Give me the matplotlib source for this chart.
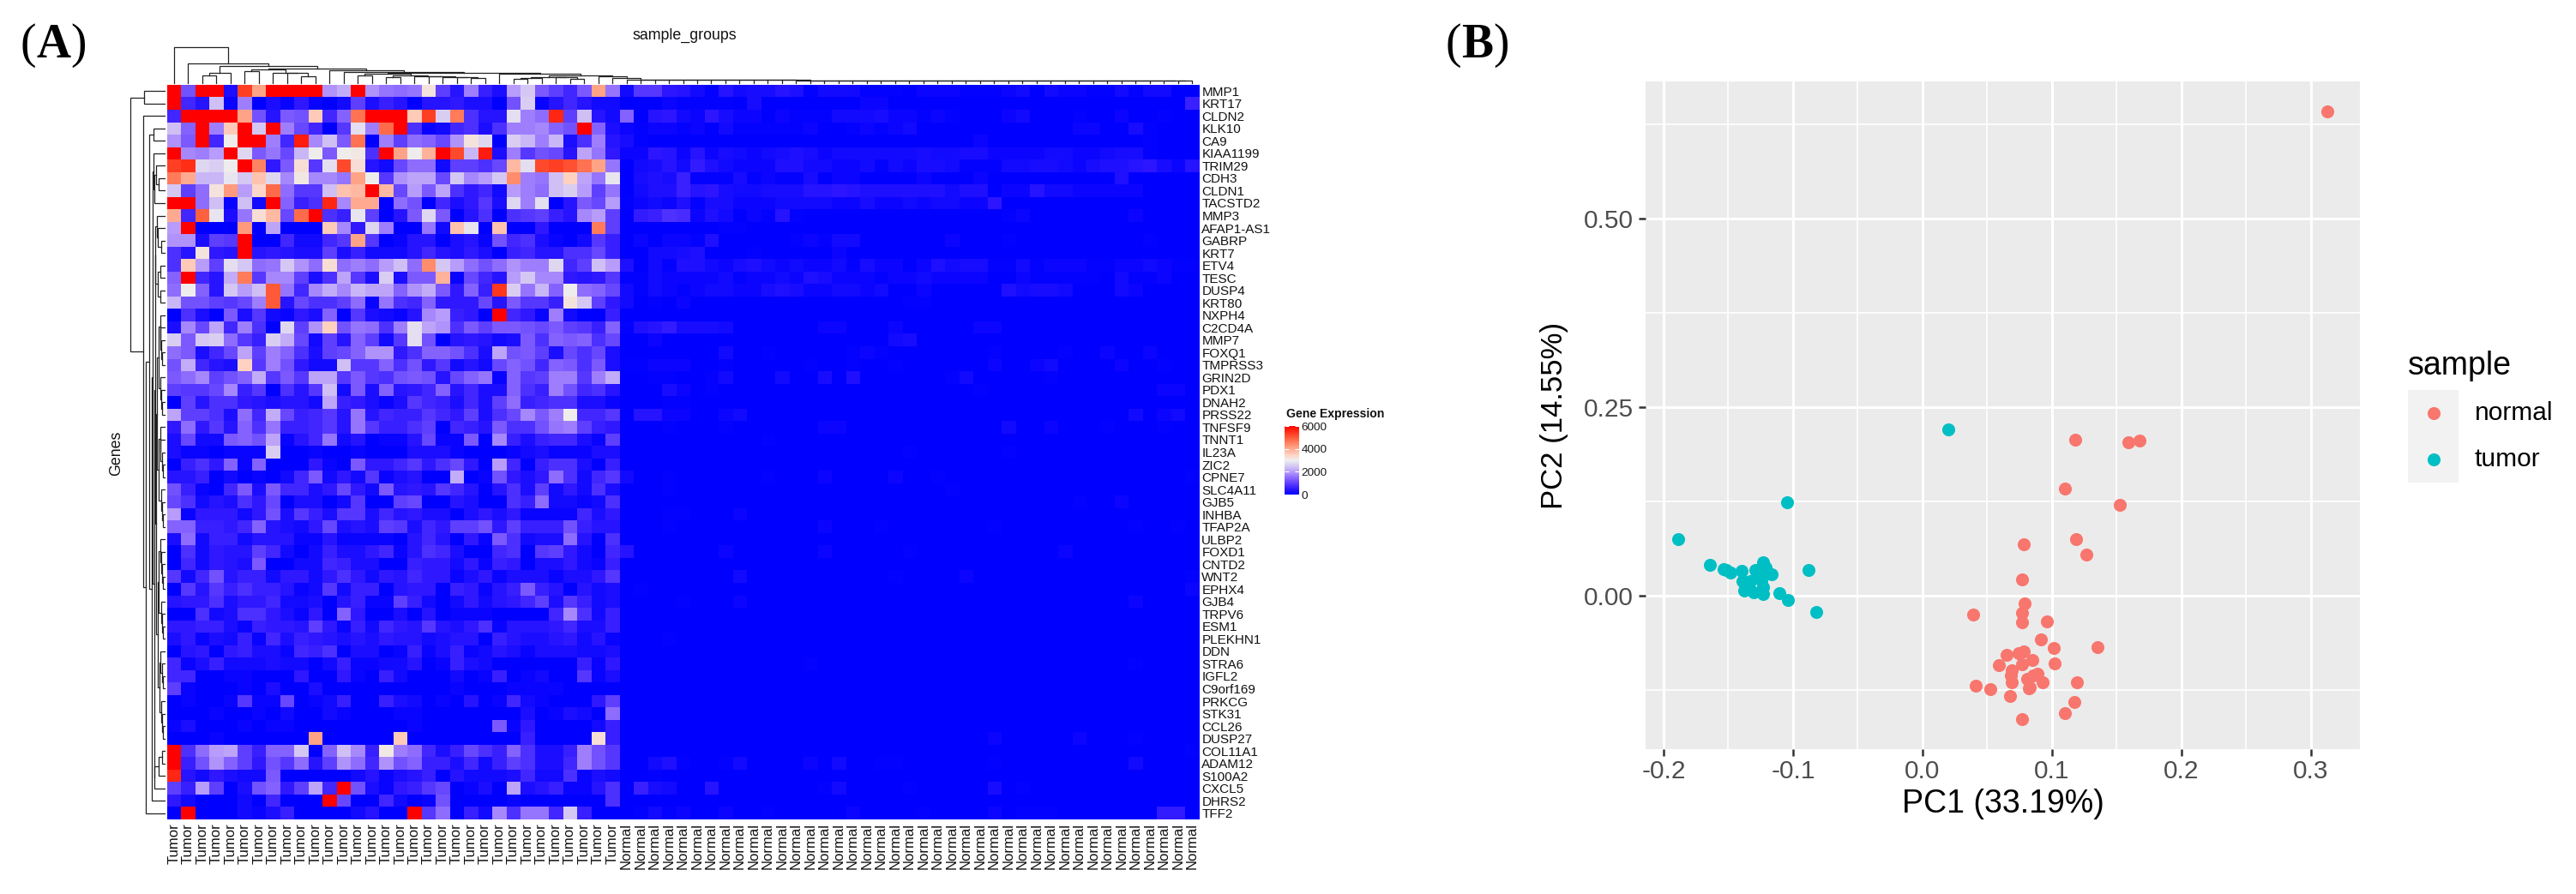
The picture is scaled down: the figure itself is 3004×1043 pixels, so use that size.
import numpy as np
import matplotlib
matplotlib.use("Agg")
import matplotlib.pyplot as plt
from matplotlib.colors import LinearSegmentedColormap, Normalize
from matplotlib.cm import ScalarMappable

plt.rcParams['font.family'] = ['Liberation Sans', 'DejaVu Sans']

W, H = 3004, 1043

# ---------- Panel A data: expression in hundreds, tumour columns (32) ----------
MMP1_t = [60,12,60,60,3,53,41,60,60,60,60,19,22,60,19,16,15,16,32,10,4,17,6,3,20,25,13,10,7,13,41,16]
KRT17_t = [60,7,4,24,1,17,0,3,1,5,1,0,2,10,3,6,4,0,4,4,5,3,3,0,12,26,1,4,7,4,2,2]
CLDN2_t = [7,60,60,60,60,41,12,4,13,12,36,7,14,47,60,60,60,36,53,26,46,8,4,4,28,17,15,56,10,24,4,2]
KLK10_t = [24,14,60,17,36,60,25,60,17,11,7,0,9,28,17,48,60,8,1,2,7,8,3,8,17,17,18,14,12,60,14,3]
CA9_t = [19,13,60,7,30,60,60,17,7,57,18,24,13,47,0,17,10,15,14,11,19,32,27,0,26,23,17,23,3,8,17,4]
KIAA1199_t = [60,18,17,20,60,27,13,16,11,23,30,13,30,31,8,60,41,30,39,60,52,23,57,3,17,9,12,11,4,21,16,5]
TRIM29_t = [53,55,27,26,30,60,45,5,13,33,9,28,52,33,4,2,11,15,15,2,10,10,8,11,38,28,52,53,51,47,41,16]
CDH3_t = [46,40,23,23,29,25,37,27,18,31,18,18,16,41,30,9,19,21,21,11,25,18,20,25,44,17,16,24,35,21,16,29]
CLDN1_t = [25,10,15,32,42,20,34,48,15,9,9,24,37,38,60,38,11,20,13,21,8,5,7,2,20,17,15,24,26,20,10,16]
TACSTD2_t = [60,60,15,24,1,24,2,60,14,6,8,56,18,40,40,0,15,12,0,7,3,5,9,3,27,17,28,0,4,13,11,20]
MMP3_t = [40,7,49,29,3,16,33,38,11,48,60,8,6,29,10,0,4,13,27,13,0,4,8,0,8,9,10,6,4,18,20,10]
AFAP1_AS1_t = [20,60,0,0,0,42,0,21,0,0,0,36,18,5,27,17,0,0,16,2,37,29,0,37,0,0,5,0,0,0,46,10]
GABRP_t = [19,19,3,10,9,60,0,0,7,2,2,7,9,41,9,0,1,4,4,0,3,4,1,12,7,8,3,1,0,2,9,6]
KRT7_t = [8,4,32,5,4,60,4,5,4,3,3,10,3,6,2,2,2,4,7,4,3,5,3,0,6,7,4,4,8,8,11,6]
ETV4_t = [8,36,20,10,28,25,15,16,25,19,15,33,15,17,15,20,24,15,44,25,20,15,12,15,19,17,17,27,7,10,24,20]
TESC_t = [14,60,7,4,22,46,9,18,18,10,3,8,21,9,3,26,3,13,13,39,1,11,7,4,20,25,18,18,5,4,5,9]
DUSP4_t = [15,30,14,4,25,20,24,50,16,7,18,22,18,23,21,21,14,19,22,13,5,14,6,54,26,16,23,14,30,15,14,11]
KRT80_t = [23,12,12,10,9,11,17,50,4,11,8,8,10,15,1,16,8,7,14,5,5,5,11,4,13,9,9,6,32,25,10,5]
NXPH4_t = [0,8,3,0,13,3,9,2,1,5,3,14,0,9,3,2,1,4,18,20,6,5,0,60,7,5,1,17,2,0,0,6]
C2CD4A_t = [3,18,11,21,7,17,8,0,27,10,19,35,12,16,15,8,17,28,21,19,8,13,10,13,13,12,11,13,10,9,6,14]
MMP7_t = [26,13,25,26,15,9,6,26,22,11,2,10,4,14,10,2,9,28,12,0,4,5,4,2,3,13,8,14,13,14,8,11]
FOXQ1_t = [15,13,3,7,11,21,10,17,14,8,3,10,11,14,19,19,5,8,14,14,12,8,3,21,12,13,10,3,11,8,11,3]
TMPRSS3_t = [12,22,7,4,3,35,9,17,12,5,2,2,24,9,9,14,8,12,5,9,2,4,2,11,14,12,7,14,13,8,13,3]
GRIN2D_t = [13,15,18,10,12,14,22,9,13,9,21,21,9,13,9,8,12,13,12,4,11,14,16,1,14,9,10,17,17,9,17,22]
PDX1_t = [10,9,9,11,18,6,9,0,8,4,9,24,2,13,3,14,4,5,7,14,4,7,3,3,14,8,6,17,12,7,8,4]
DNAH2_t = [0,10,4,8,8,5,4,3,4,4,2,21,6,5,3,1,3,9,7,6,3,7,3,10,15,6,7,8,8,3,3,1]
PRSS22_t = [21,10,10,8,3,15,7,22,11,6,7,9,4,16,4,7,6,6,9,7,5,10,3,8,11,18,13,17,30,7,7,9]
TNFSF9_t = [5,15,5,9,4,14,8,16,6,6,7,9,4,16,9,6,6,8,10,0,7,6,4,13,8,8,12,16,17,10,6,5]
TNNT1_t = [3,11,2,2,13,14,12,21,1,4,7,16,2,4,0,1,1,4,11,1,1,13,0,18,6,3,6,7,7,3,1,10]
IL23A_t = [3,1,1,0,1,1,1,26,0,0,1,0,0,1,0,0,0,3,3,3,1,0,0,0,1,2,3,1,1,1,3,3]
ZIC2_t = [0,6,8,5,14,1,14,0,0,0,5,1,0,13,5,5,7,9,5,8,11,5,0,20,7,0,6,8,8,3,0,6]
CPNE7_t = [4,4,6,0,2,0,1,0,2,7,13,2,5,2,9,1,3,4,0,0,22,0,1,12,5,3,5,15,8,2,7,9]
SLC4A11_t = [12,6,1,0,7,13,3,13,7,7,3,5,11,5,2,13,4,5,4,9,7,4,0,4,8,3,10,2,5,2,8,3]
GJB5_t = [11,8,2,4,3,8,5,11,0,3,3,0,2,9,0,0,10,11,0,0,4,3,0,0,8,6,15,2,2,1,2,8]
INHBA_t = [20,1,5,5,5,2,5,12,3,9,6,3,9,9,3,7,4,5,3,3,0,3,5,3,5,1,1,1,1,7,3,5]
TFAP2A_t = [14,14,6,6,5,7,14,4,3,2,5,11,3,4,3,10,9,3,7,5,10,10,12,5,10,6,6,6,12,6,4,4]
ULBP2_t = [3,15,2,6,6,2,4,4,4,1,1,4,1,1,1,1,0,4,7,4,0,5,1,13,8,2,3,3,15,4,0,8]
FOXD1_t = [0,8,2,5,4,4,10,7,2,0,2,6,3,3,5,7,1,4,8,7,3,0,0,7,8,0,9,10,5,2,0,7]
CNTD2_t = [0,7,2,5,4,3,13,0,0,2,2,7,6,3,3,0,0,6,5,5,2,5,1,6,5,0,3,3,5,2,1,6]
WNT2_t = [9,2,7,12,4,6,6,2,5,5,2,5,8,5,2,5,4,7,5,5,1,3,5,1,3,3,3,1,3,3,5,9]
EPHX4_t = [0,9,4,9,6,8,6,6,4,1,2,9,2,6,6,0,4,5,5,0,6,5,1,4,6,13,6,4,0,4,2,3]
GJB4_t = [4,5,5,8,3,5,5,7,2,2,3,0,4,6,1,1,10,6,2,0,2,5,2,4,5,7,10,3,9,6,2,3]
TRPV6_t = [0,0,8,2,3,8,8,5,3,1,5,0,14,5,0,0,3,0,4,0,1,1,1,0,0,0,0,7,18,8,2,6]
ESM1_t = [5,5,6,6,3,1,6,5,5,4,10,5,1,6,2,7,5,4,9,4,3,5,8,1,4,4,4,5,7,3,3,6]
PLEKHN1_t = [3,5,1,3,2,6,1,7,3,6,5,4,3,4,3,5,4,4,2,3,4,4,0,6,4,3,3,4,5,2,4,1]
DDN_t = [0,4,5,0,5,6,3,3,1,7,6,8,0,3,3,0,1,6,1,3,6,1,2,4,3,1,3,3,3,2,2,3]
STRA6_t = [7,1,3,6,2,2,2,3,2,2,0,2,6,1,1,2,2,4,0,1,6,3,2,0,0,0,0,0,0,6,1,5]
IGFL2_t = [7,7,0,0,1,1,0,0,0,5,0,0,5,1,0,6,2,0,0,0,2,0,1,6,0,1,2,0,0,9,1,3]
C9orf169_t = [10,1,0,0,0,1,0,3,0,0,3,0,0,0,0,0,0,0,0,0,1,0,0,0,1,1,1,1,0,0,0,0]
PRKCG_t = [0,1,0,0,1,9,1,1,11,0,1,2,6,0,0,6,3,2,0,1,0,4,0,1,7,2,1,0,0,0,5,10]
STK31_t = [0,0,0,1,0,0,1,0,2,0,0,2,1,0,0,0,1,1,0,0,0,0,0,0,0,3,0,1,3,2,0,15]
CCL26_t = [1,3,0,0,0,1,0,1,1,0,0,0,0,0,0,0,0,1,0,0,0,0,0,13,1,5,0,0,0,0,2,6]
DUSP27_t = [0,0,0,1,0,0,0,0,0,0,41,0,0,0,0,0,36,0,0,0,0,0,0,0,0,6,0,0,0,0,33,6]
COL11A1_t = [60,8,15,20,21,10,6,14,14,25,0,14,24,18,6,31,17,15,7,3,6,11,8,6,14,8,3,3,6,17,12,9]
ADAM12_t = [60,6,12,19,14,10,5,12,9,15,4,10,19,15,7,19,12,14,6,6,3,7,2,6,10,8,3,3,7,17,12,9]
S100A2_t = [56,4,2,5,3,2,2,13,0,0,0,0,0,2,4,1,3,4,6,0,4,2,2,2,3,7,2,2,8,1,3,2]
CXCL5_t = [10,6,20,10,0,3,12,14,5,10,21,7,60,12,3,1,5,6,9,11,0,1,3,0,21,3,4,6,1,1,4,8]
DHRS2_t = [5,2,0,0,0,2,0,7,0,0,0,60,11,0,0,7,2,0,1,12,0,0,0,0,1,0,0,0,0,0,0,8]
TFF2_t = [0,60,0,0,0,2,1,3,6,0,0,0,0,2,4,0,0,60,9,15,0,6,2,18,8,16,16,7,25,6,0,0]

# Normal columns (index 32..72), only cells visibly above zero; values in tens of counts
MMP1_n = {32:21,33:91,34:91,35:49,36:42,37:21,38:7,39:42,40:21,41:28,42:28,43:42,44:35,45:7,46:21,47:21,48:21,49:7,50:7,51:7,53:14,54:14,55:14,56:7,57:7,58:7,59:14,60:21,62:21,63:14,64:14,65:7,66:7,67:21,68:7,69:21,70:21}
KRT17_n = {35:14,36:7,37:7,38:7,39:7,41:28,49:14,50:14,72:63}
CLDN2_n = {32:140,34:42,35:49,36:21,37:14,38:49,39:28,40:14,41:14,43:14,44:7,45:7,46:7,47:21,48:21,49:21,50:28,51:14,52:14,53:7,54:14,55:7,59:14,60:21,64:7,67:14,70:7}
KLK10_n = {32:14,33:7,34:14,35:14,36:7,37:14,39:21,40:7,41:7,42:7,43:7,44:7,45:14,48:7,49:14,50:7,51:14,52:21,64:14,65:14,68:28,69:7}
CA9_n = {32:28,33:7,57:14,69:7}
KIAA1199_n = {32:14,33:14,34:49,35:42,36:14,37:42,38:14,39:28,40:21,41:14,42:21,43:28,44:35,45:28,46:14,47:21,48:21,49:21,50:21,51:21,52:21,53:28,54:21,55:21,56:28,57:28,58:14,59:14,60:14,61:14,62:21,63:21,64:14,65:14,66:21,67:28,68:28,69:7}
TRIM29_n = {33:21,34:28,35:42,36:21,37:56,38:35,39:21,40:14,41:14,42:14,43:35,44:35,45:21,46:21,47:14,48:14,49:21,50:7,51:21,52:14,53:28,54:28,55:21,56:7,57:7,58:7,59:21,60:21,61:28,62:28,63:21,64:14,65:28,66:35,67:35,68:42,69:49,70:28,71:14,72:42}
CDH3_n = {33:28,34:35,35:28,36:63,37:7,38:7,39:7,40:28,41:7,42:14,43:7,44:7,45:28,47:14,48:14,53:14,57:14,67:35}
CLDN1_n = {33:21,34:35,35:35,36:63,37:42,38:49,39:28,40:21,41:21,42:28,43:28,44:28,45:42,46:42,47:49,48:42,49:35,50:35,51:35,52:35,53:35,54:35,55:21,56:35,57:35,59:14,60:14,61:42,62:21,63:21,64:14,65:14,66:14,67:14,68:14}
TACSTD2_n = {32:7,33:14,34:21,35:14,36:35,37:7,38:28,39:28,40:14,41:14,42:14,43:21,44:21,45:21,46:21,47:14,48:14,49:28,50:14,51:14,52:21,53:14,54:21,55:21,56:14,57:14,58:49}
MMP3_n = {33:56,34:63,35:84,36:77,37:14,38:35,39:21,41:14,42:7,43:42,44:7,59:7,60:14,68:14}
AFAP1_AS1_n = {39:7,40:7}
GABRP_n = {33:14,35:14,36:14,37:7,38:35,44:7,45:14,46:7,47:21,48:21,55:14,59:7,69:7}
KRT7_n = {34:21,35:21,36:28,37:35,41:7,47:14}
ETV4_n = {32:35,34:21,35:7,36:35,37:35,38:21,39:14,40:28,41:35,42:21,43:14,44:21,45:14,46:14,47:21,48:7,49:28,50:14,51:14,53:14,54:35,55:21,56:28,57:28,58:7,59:7,60:21,61:7,62:14,63:14,64:14,65:7,66:7,67:14,68:14,69:21,70:14,71:7,72:7}
TESC_n = {32:7,33:7,34:21,35:14,36:14,37:14,38:14,39:21,40:7,41:14,42:14,43:21,44:14,45:35,46:28,47:14,48:14,49:14,50:7,51:14,52:14,53:21,54:14,55:14,56:14,57:14,60:14,61:7,62:7,63:7,64:7,65:7,67:21,68:7,69:7,70:14}
DUSP4_n = {32:21,33:7,34:21,35:14,36:7,37:14,38:21,39:21,40:14,41:14,42:28,43:35,44:28,45:14,46:14,47:21,48:21,49:14,50:21,53:14,59:35,60:21,61:28,62:28,63:21,67:21,68:14}
KRT80_n = {32:21,34:7,36:14,52:7,53:7}
NXPH4_n = {}
C2CD4A_n = {32:7,33:35,34:42,35:56,36:28,37:28,38:28,39:21,46:14,47:14,51:14,57:14,58:14}
MMP7_n = {34:14,51:21,52:28}
FOXQ1_n = {39:21,42:7,48:7,49:14,50:7,58:7,63:7,66:14,69:14}
TMPRSS3_n = {32:7,33:7,34:14,35:14,36:14,39:7,45:7,48:7,51:7,58:14,61:14,62:21,67:14,70:7}
GRIN2D_n = {34:7,35:7,38:7,39:21,43:21,46:28,48:35,55:7,56:21,62:7}
PDX1_n = {35:28,36:14,38:7,57:7,70:14,71:14}
DNAH2_n = {35:7,36:7}
PRSS22_n = {33:42,34:42,35:14,36:14,39:14,40:21,68:21,70:14,71:21}
TNFSF9_n = {35:7,39:7,46:14,47:14,59:21,62:14,66:7,70:7}
TNNT1_n = {42:7}
IL23A_n = {52:7,59:7}
ZIC2_n = {}
CPNE7_n = {32:21,35:7,42:7,46:14,51:14,54:7,72:7}
SLC4A11_n = {35:7,55:7}
GJB5_n = {67:14,64:7}
INHBA_n = {35:7,36:7,40:14}
TFAP2A_n = {35:7,46:14,50:7,58:7,68:7,71:7}
ULBP2_n = {}
FOXD1_n = {32:42,39:14,46:14,52:7,63:14}
CNTD2_n = {}
WNT2_n = {40:21,51:7,56:14,72:7}
EPHX4_n = {33:7,72:14}
GJB4_n = {36:7,40:14,68:14}
TRPV6_n = {}
ESM1_n = {}
PLEKHN1_n = {35:7}
DDN_n = {}
STRA6_n = {45:7,68:7}
IGFL2_n = {}
C9orf169_n = {}
PRKCG_n = {}
STK31_n = {}
CCL26_n = {}
DUSP27_n = {58:14,64:14,68:7}
COL11A1_n = {72:7}
ADAM12_n = {34:21,35:35,36:7,39:7,40:21,45:14,47:21,50:7,51:7,58:7,68:21}
S100A2_n = {34:7}
CXCL5_n = {33:63,34:28,35:21,38:42,46:7,47:21,52:7,58:28,60:7}
DHRS2_n = {}
TFF2_n = {33:7,34:21,35:7,36:14,39:14,42:7,48:14,53:7,58:14,60:7,61:7,62:7,70:56,71:56}

GENES = ["MMP1","KRT17","CLDN2","KLK10","CA9","KIAA1199","TRIM29","CDH3","CLDN1","TACSTD2",
         "MMP3","AFAP1-AS1","GABRP","KRT7","ETV4","TESC","DUSP4","KRT80","NXPH4","C2CD4A",
         "MMP7","FOXQ1","TMPRSS3","GRIN2D","PDX1","DNAH2","PRSS22","TNFSF9","TNNT1","IL23A",
         "ZIC2","CPNE7","SLC4A11","GJB5","INHBA","TFAP2A","ULBP2","FOXD1","CNTD2","WNT2",
         "EPHX4","GJB4","TRPV6","ESM1","PLEKHN1","DDN","STRA6","IGFL2","C9orf169","PRKCG",
         "STK31","CCL26","DUSP27","COL11A1","ADAM12","S100A2","CXCL5","DHRS2","TFF2"]
N_TUMOR, N_NORMAL = 32, 41
COLUMN_LABELS = ["Tumor"] * N_TUMOR + ["Normal"] * N_NORMAL

ns = globals()
matrix = np.zeros((len(GENES), N_TUMOR + N_NORMAL))
for r, g in enumerate(GENES):
    key = g.replace("-", "_")
    matrix[r, :N_TUMOR] = np.array(ns[key + "_t"]) * 100
    for c, v in ns[key + "_n"].items():
        matrix[r, c] = v * 10

COLOR_STOPS = [(0, "#0000FF"), (500, "#3018FF"), (1000, "#6040FF"), (1500, "#8E6CFF"),
               (2000, "#B89CFB"), (2500, "#D5C8F3"), (3000, "#EEEEEE"), (3500, "#FFD2C2"),
               (4000, "#FFAA90"), (4500, "#FF8564"), (5000, "#FF5A3A"), (5500, "#FF3018"),
               (6000, "#FF0000")]
CBAR_TICKS = [0, 2000, 4000, 6000]

# ---------- dendrograms: node = (height, child, child); a child is a leaf index or a node ----------
def chain(leaves, heights):
    node = leaves[-1]
    for leaf, h in zip(leaves[-2::-1], heights[::-1]):
        node = (h, leaf, node)
    return node

NORMAL_LADDER = [3.7,3.6,3.6,3.5,3.5,3.4,3.4,3.4,3.3,3.3,3.3,3.2,3.2,3.2,3.1,3.1,3.1,3.1,3.0,3.0,
                 3.0,3.0,2.9,2.9,2.9,2.9,2.8,2.8,2.8,2.8,2.8,2.7,2.7,2.7,2.7,2.7,2.6,2.6,2.6]
right_top = (9.0, (6.8, (6.0, (4.5, 24, 25), 26), (6.4, 27, (5.2, 28, 29))),
             (7.5, 30, (5.3, 31, (4.0, 32, chain(list(range(33, 73)), NORMAL_LADDER)))))
mid_top = (11.7,
           (10.3, (8.3, 13, 14),
            (8.7, (6.3, 15, 16), (7.7, 17, (7.3, 18, (6.7, 19, (6.3, 20, (5.3, 21, 22))))))),
           (10.7, 23, right_top))
TOP_TREE = (41.7, 0, (23, 1, (20, (11.3, (9, 2, 3), 4),
            (16.7, (15.7, (13.7, 5, 6), (12, 7, (11.3, 8, (7.3, 9, 10)))),
             (14.7, 11, (12.8, 12, mid_top))))))

rows_18_52 = (10.2,
              (9, (7.5, chain([18,19,20,21,22],[5.5,5,4.5,3]), chain([23,24,25,26],[5,4,3])),
                  (7, chain([27,28,29,30,31],[5.5,5,3.5,2.5]), chain([32,33,34,35],[4.5,3.5,2.5]))),
              (8.5, (7, chain([36,37,38,39,40],[5,4.5,3.5,2.5]), chain([41,42,43,44],[4.5,3,2])),
                    (6.5, chain([45,46,47,48],[5,3.5,2.5]), chain([49,50,51,52],[4.5,3.5,2.5]))))
rows_10_17 = (11, (9.8, 10, (8.2, 11, (4.5, 12, 13))), (8, (5.5, 14, 15), (5, 16, 17)))
rows_5_9 = (13, 5, (12.3, (10, 6, (7.3, 7, 8)), 9))
rows_53_56 = (12, (7.3, (3.5, 53, 54), 55), 56)
LEFT_TREE = (40, (24, 0, 1),
             (25.6, 2, (22.3, (18, (13.6, 3, 4),
                               (15.3, (14, rows_5_9, (12.5, (11.5, rows_10_17, rows_18_52), rows_53_56)), 57)),
                        58)))

# ---------- Panel B data ----------
normal_pc1 = [.1102,.1528,.1188,.0782,.1269,.0772,.0792,.0772,.0391,.0772,.0964,.0919,.1015,.1355,.0782,.0746,.0650,.0848,.0772,.0594,.1025,.0690,.0685,.0888,.0858,.0812,.0690,.0929,.1193,.0411,.0528,.0827,.0822,.0680,.1173,.1102,.0772,.1178,.1594,.168,.313]
normal_pc2 = [.1424,.1201,.0754,.0682,.0549,.0216,-.0102,-.0227,-.0246,-.0352,-.0341,-.0583,-.0689,-.0682,-.0735,-.0758,-.0788,-.0852,-.0913,-.0917,-.0902,-.0992,-.1061,-.1034,-.1061,-.1098,-.1144,-.1144,-.1152,-.1197,-.1239,-.1212,-.1231,-.1326,-.1409,-.1557,-.1633,.2064,.2030,.2061,.6417]
tumor_pc1 = [.0198,-.1046,-.1888,-.1640,-.1518,-.1538,-.1482,-.1396,-.1234,-.1213,-.1289,-.1168,-.1203,-.1254,-.0878,-.1391,-.1330,-.1228,-.1376,-.1305,-.1234,-.1102,-.1036,-.0817,-.1345,-.1279,-.1244]
tumor_pc2 = [.2208,.1239,.0754,.0413,.0341,.0348,.0303,.0330,.0443,.0379,.0341,.0284,.0292,.0322,.0341,.0189,.0189,.0114,.0068,.0045,.0027,.0034,-.0053,-.0212,.0133,.0265,.0208]
PC_XTICKS = [-0.2, -0.1, 0.0, 0.1, 0.2, 0.3]
PC_XMINOR = [-0.15, -0.05, 0.05, 0.15, 0.25]
PC_YTICKS = [0.0, 0.25, 0.50]
PC_YMINOR = [-0.125, 0.125, 0.375, 0.625]
PC_XLIM = (-0.2139, 0.3381)
PC_YLIM = (-0.2034, 0.6818)
LEGEND_ITEMS = ["normal", "tumor"]
NORMAL_COLOR, TUMOR_COLOR = "#F8766D", "#00BFC4"

# ---------- helpers ----------
fig = plt.figure(figsize=(W / 100, H / 100), dpi=100)

def axpx(x0, y0, x1, y1, **kw):
    return fig.add_axes([x0 / W, 1 - y1 / H, (x1 - x0) / W, (y1 - y0) / H], **kw)

def ftext(x, y, s, **kw):
    return fig.text(x / W, 1 - y / H, s, **kw)

def tree_segments(node, out):
    if not isinstance(node, tuple):
        return node + 0.5, 0.0
    h, a, b = node
    pa, ha = tree_segments(a, out)
    pb, hb = tree_segments(b, out)
    out.append(([pa, pa, pb, pb], [ha, h, h, hb]))
    return (pa + pb) / 2, h

HM_L, HM_R, HM_T, HM_B = 194.5, 1398.5, 99, 956

# ---------- heatmap ----------
cmap = LinearSegmentedColormap.from_list("expr", [(v / 6000, c) for v, c in COLOR_STOPS])
norm = Normalize(0, 6000)
ax = axpx(HM_L, HM_T, HM_R, HM_B)
ax.imshow(matrix, cmap=cmap, norm=norm, aspect="auto", interpolation="nearest")
ax.set_xticks(np.arange(matrix.shape[1]))
ax.set_xticklabels(COLUMN_LABELS, rotation=90, fontsize=12.0, va="top", ha="center", color="#111111")
ax.yaxis.tick_right()
ax.set_yticks(np.arange(len(GENES)))
ax.set_yticklabels(GENES, fontsize=11.0, color="#111111")
ax.tick_params(axis="both", length=0)
ax.tick_params(axis="x", pad=3)
ax.tick_params(axis="y", pad=2)
for s in ax.spines.values():
    s.set_visible(False)

# top dendrogram (leaves stop slightly above the heatmap)
top = axpx(HM_L, 50, HM_R, 96.7)
segs = []
tree_segments(TOP_TREE, segs)
for xs, ys in segs:
    top.plot(xs, ys, color="#222222", lw=0.9, solid_joinstyle="miter", clip_on=False)
top.set_xlim(0, matrix.shape[1])
top.set_ylim(0, 46.7)
top.axis("off")

# left dendrogram
left = axpx(130, HM_T, 192.3, HM_B)
segs = []
tree_segments(LEFT_TREE, segs)
for xs, ys in segs:
    left.plot(ys, xs, color="#222222", lw=0.9, solid_joinstyle="miter", clip_on=False)
left.set_xlim(62.3, 0)
left.set_ylim(len(GENES), 0)
left.axis("off")

ftext(798.5, 41, "sample_groups", fontsize=12.8, ha="center", va="center", color="#111111")
ftext(136, 529, "Genes", fontsize=12.8, rotation=90, ha="center", va="center", color="#111111")

# colour key
cax = axpx(1498, 497, 1515, 577)
cb = fig.colorbar(ScalarMappable(norm=norm, cmap=cmap), cax=cax)
cb.outline.set_visible(False)
cb.set_ticks(CBAR_TICKS)
cb.set_ticklabels([str(t) for t in CBAR_TICKS])
cax.tick_params(axis="y", direction="in", length=3.5, width=0.8, color="white", left=True,
                right=True, labelsize=9.7, pad=2, labelcolor="#1a1a1a")
ftext(1500, 483, "Gene Expression", fontsize=10.1, fontweight="bold", ha="left", va="center",
      color="#111111")

# panel letters
for x, s, w in [(24, "(", "normal"), (42.5, "A", "bold"), (82.5, ")", "normal"),
                (1686, "(", "normal"), (1704.5, "B", "bold"), (1741.5, ")", "normal")]:
    ftext(x, 67, s, fontsize=40, family="Liberation Serif", fontweight=w, va="baseline", ha="left",
          color="black")

# ---------- PCA ----------
pc = axpx(1919, 95, 2752, 874)
pc.set_facecolor("#EBEBEB")
pc.scatter(normal_pc1, normal_pc2, s=118, color=NORMAL_COLOR, linewidths=0, zorder=3)
pc.scatter(tumor_pc1, tumor_pc2, s=118, color=TUMOR_COLOR, linewidths=0, zorder=3)
pc.set_xlim(*PC_XLIM)
pc.set_ylim(*PC_YLIM)
pc.set_xticks(PC_XTICKS)
pc.set_xticklabels([f"{v:.1f}" for v in PC_XTICKS])
pc.set_yticks(PC_YTICKS)
pc.set_yticklabels([f"{v:.2f}" for v in PC_YTICKS])
pc.set_xticks(PC_XMINOR, minor=True)
pc.set_yticks(PC_YMINOR, minor=True)
pc.set_axisbelow(True)
pc.grid(which="major", color="white", lw=2.2)
pc.grid(which="minor", color="white", lw=1.2)
pc.tick_params(which="minor", length=0)
pc.tick_params(which="major", length=5.8, width=1.8, color="#333333", labelsize=21.5,
               labelcolor="#4D4D4D", pad=4.5)
pc.tick_params(axis="x", which="major", pad=3.2)
for s in pc.spines.values():
    s.set_visible(False)
pc.set_xlabel("PC1 (33.19%)", fontsize=27, va="center")
pc.xaxis.set_label_coords(0.5, (874 - 938) / 779)
pc.set_ylabel("PC2 (14.55%)", fontsize=25, va="center")
pc.yaxis.set_label_coords((1813 - 1919) / 833, 0.5)

# PCA legend
ftext(2808, 427, "sample", fontsize=27, ha="left", va="center", color="black")
leg = axpx(2808, 455, 2867, 563)
leg.set_facecolor("#F2F2F2")
leg.set_xlim(0, 1)
leg.set_ylim(2, 0)
leg.set_xticks([])
leg.set_yticks([])
for s in leg.spines.values():
    s.set_visible(False)
for i, (lab, col) in enumerate(zip(LEGEND_ITEMS, [NORMAL_COLOR, TUMOR_COLOR])):
    leg.scatter([0.5], [i + 0.5], s=118, color=col, linewidths=0, zorder=3)
    ftext(2886, 455 + (i + 0.5) * 54, lab, fontsize=21.5, ha="left", va="center", color="black")

fig.savefig("out.png", dpi=100, facecolor="white")
